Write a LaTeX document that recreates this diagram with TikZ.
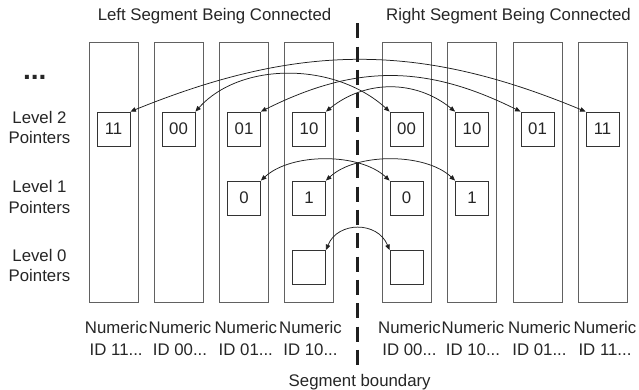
\documentclass[tikz,border=0pt]{standalone}
\usepackage{fontspec}
\setmainfont{Liberation Sans}
\usetikzlibrary{arrows.meta}
\newcommand\diagfont{\fontsize{16.8}{20}\selectfont}

\begin{document}
\begin{tikzpicture}[x=1pt,y=-1pt,
  column/.style={draw=black!62, line width=0.9pt, minimum width=49pt,
    minimum height=260pt, inner sep=0pt},
  ptrbox/.style={draw=black!80, line width=0.85pt, minimum width=33pt,
    minimum height=34pt, inner sep=0pt, font=\diagfont, text=black!85},
  link/.style={draw=black!88, line width=0.75pt,
    {Triangle[length=5.5pt,width=4.5pt]}-{Triangle[length=5.5pt,width=4.5pt]}},
  lbl/.style={anchor=base, inner sep=0pt, font=\diagfont, text=black!85},
  boundary/.style={draw=black!88, line width=2.6pt, dash pattern=on 15pt off 8.33pt},
]
% canvas
\fill[white] (0,0) rectangle (639,390);
\useasboundingbox (0,0) rectangle (639,390);

% segment titles
\node[lbl] (ltitle) at (214.5,21) {Left Segment Being Connected};
\node[lbl] (rtitle) at (508.5,21) {Right Segment Being Connected};

% row labels
\node[lbl, font=\fontsize{28}{30}\selectfont\bfseries] (dots) at (34.7,80) {...};
\node[lbl] (l2a) at (39.5,124) {Level 2};
\node[lbl] (l2b) at (39.5,144) {Pointers};
\node[lbl] (l1a) at (39.5,193) {Level 1};
\node[lbl] (l1b) at (39.5,213) {Pointers};
\node[lbl] (l0a) at (39.5,261.5) {Level 0};
\node[lbl] (l0b) at (39.5,281.5) {Pointers};

% node columns
\foreach \i/\x in {1/113.5,2/178.5,3/244,4/309,5/406.5,6/472,7/537.5,8/602.5}{
  \node[column] (c\i) at (\x,172) {};
}

% column captions
\foreach \i/\x/\id in {1/116.2/11,2/180/00,3/245.8/01,4/310.5/10,
                       5/409.5/00,6/473/10,7/539.5/01,8/605/11}{
  \node[lbl] (num\i) at (\x,333) {Numeric};
  \node[lbl] (id\i) at (\x,355) {ID \id...};
}

% level 2 pointers
\node[ptrbox] (a1) at (113.5,129) {11};
\node[ptrbox] (a2) at (178.5,129) {00};
\node[ptrbox] (a3) at (244,129) {01};
\node[ptrbox] (a4) at (309,129) {10};
\node[ptrbox] (a5) at (406.5,129) {00};
\node[ptrbox] (a6) at (472,129) {10};
\node[ptrbox] (a7) at (537.5,129) {01};
\node[ptrbox] (a8) at (602.5,129) {11};

% level 1 pointers
\node[ptrbox] (b3) at (244,198) {0};
\node[ptrbox] (b4) at (309,198) {1};
\node[ptrbox] (b5) at (406.5,198) {0};
\node[ptrbox] (b6) at (472,198) {1};

% level 0 pointers
\node[ptrbox] (z4) at (309,267.5) {};
\node[ptrbox] (z5) at (406.5,267.5) {};

% level 2 links
\draw[link] (a1.north east) .. controls +(170,-69) and +(-166,-69) .. (a8.north west);
\draw[link] (a2.north east) .. controls +(45,-50) and +(-55,-50) .. (a5.north west);
\draw[link] (a3.north east) .. controls +(94.5,-47.3) and +(-95,-47.3) .. (a7.north west);
\draw[link] (a4.north east) .. controls +(39.5,-32) and +(-39.5,-32) .. (a6.north west);

% level 1 links
\draw[link] (b3.north east) .. controls +(30,-28) and +(-30,-28) .. (b5.north west);
\draw[link] (b4.north east) .. controls +(30,-28) and +(-30,-28) .. (b6.north west);

% level 0 link
\draw[link] (z4.north east) .. controls +(12,-29) and +(-12,-29) .. (z5.north west);

% segment boundary
\coordinate (btop) at (357.7,23.3);
\coordinate (bbot) at (357.7,365);
\draw[boundary] (btop) -- (bbot);
\node[lbl] (bcap) at (359.7,386) {Segment boundary};
\end{tikzpicture}
\end{document}
